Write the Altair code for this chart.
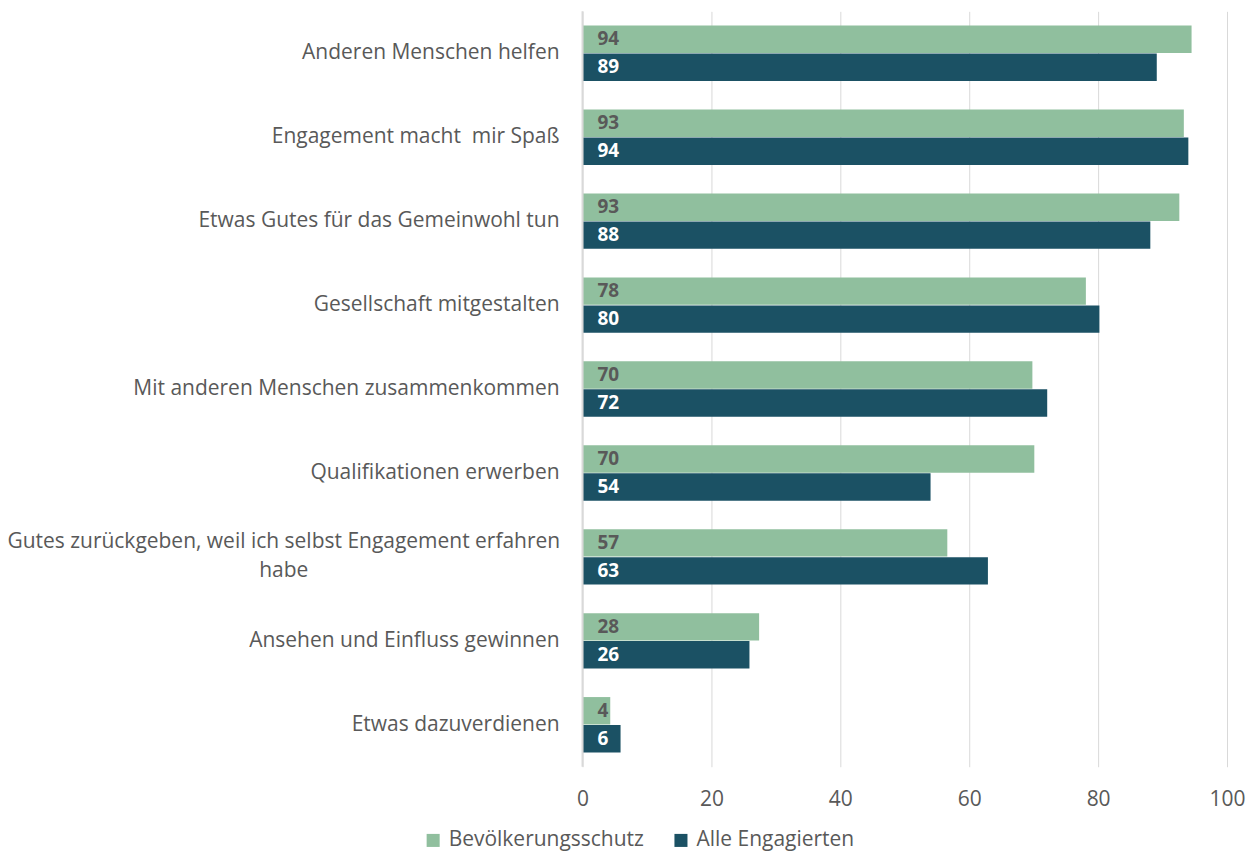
import altair as alt
import pandas as pd

categories = [
    "Anderen Menschen helfen",
    "Engagement macht\u00a0 mir Spaß",
    "Etwas Gutes für das Gemeinwohl tun",
    "Gesellschaft mitgestalten",
    "Mit anderen Menschen zusammenkommen",
    "Qualifikationen erwerben",
    "Gutes zurückgeben, weil ich selbst Engagement erfahren\nhabe",
    "Ansehen und Einfluss gewinnen",
    "Etwas dazuverdienen",
]
series = ["Bevölkerungsschutz", "Alle Engagierten"]
bevoelkerungsschutz = [94.5, 93.3, 92.6, 78.1, 69.8, 70.1, 56.6, 27.4, 4.3]
bevoelkerungsschutz_labels = [94, 93, 93, 78, 70, 70, 57, 28, 4]
alle_engagierten = [89.1, 94.0, 88.1, 80.2, 72.1, 54.0, 62.9, 25.9, 5.9]
alle_engagierten_labels = [89, 94, 88, 80, 72, 54, 63, 26, 6]
x_ticks = [0, 20, 40, 60, 80, 100]

colors = ["#90bf9e", "#1b5164"]
label_colors = ["#595959", "#ffffff"]
FONT = "Open Sans"
TXT = "#595959"

rows = []
for i, c in enumerate(categories):
    rows.append({"cat": c, "series": series[0], "value": bevoelkerungsschutz[i],
                 "label": str(bevoelkerungsschutz_labels[i])})
    rows.append({"cat": c, "series": series[1], "value": alle_engagierten[i],
                 "label": str(alle_engagierten_labels[i])})
df = pd.DataFrame(rows)

cat_df = pd.DataFrame({"cat": categories,
                       "multi": [("\n" in c) for c in categories]})

yscale = alt.Scale(domain=categories, paddingInner=0.34, paddingOuter=0.17)
ysc = alt.Y("cat:N", scale=yscale, axis=None, sort=categories)
yoff = alt.YOffset("series:N", sort=series, scale=alt.Scale(domain=series, paddingInner=0.02))

bars = alt.Chart(df).mark_bar().encode(
    y=ysc,
    yOffset=yoff,
    x=alt.X("value:Q", scale=alt.Scale(domain=[0, 100]),
            axis=alt.Axis(values=x_ticks, title=None, grid=True, gridColor="#d9d9d9",
                          domain=False, ticks=False, labelPadding=22, labelFlush=False,
                          labelFontSize=21, labelColor=TXT, labelFont=FONT)),
    color=alt.Color("series:N", sort=series,
                    scale=alt.Scale(domain=series, range=colors),
                    legend=alt.Legend(orient="none", direction="horizontal", title=None,
                                      legendX=-160, legendY=819,
                                      symbolType="square", symbolSize=170,
                                      symbolStrokeWidth=0, labelFontSize=21,
                                      labelColor=TXT, labelFont=FONT, labelLimit=0,
                                      labelOffset=5, columnPadding=26, symbolOffset=0)),
)

zero = alt.Chart(pd.DataFrame({"x": [0]})).mark_rule(color="#d9d9d9", strokeWidth=2).encode(
    x=alt.X("x:Q"), y=alt.value(0), y2=alt.value(756))

vlabels = alt.Chart(df).mark_text(align="left", baseline="middle", fontWeight="bold",
                                   fontSize=19, font=FONT).encode(
    y=ysc,
    yOffset=yoff,
    x=alt.value(15),
    text="label:N",
    color=alt.Color("series:N", sort=series,
                    scale=alt.Scale(domain=series, range=label_colors), legend=None),
)

catlabels = alt.Chart(cat_df).transform_filter("!datum.multi").mark_text(
    align="right", baseline="middle", fontSize=21, font=FONT, color=TXT).encode(
    y=ysc, x=alt.value(-23), text="cat:N")

multilabel = alt.Chart(cat_df).transform_filter("datum.multi").mark_text(
    align="center", baseline="middle", fontSize=21, font=FONT, color=TXT,
    lineBreak="\n", lineHeight=29, dy=-14.5).encode(
    y=ysc, x=alt.value(-299), text="cat:N")

chart = alt.layer(bars, zero, vlabels, catlabels, multilabel).resolve_scale(
    color="independent").properties(
    width=645, height=756,
    autosize=alt.AutoSizeParams(type="none"),
    padding={"left": 575, "top": 3, "right": 20, "bottom": 86},
).configure_view(stroke=None)

chart.save("out.html", embed_options={"renderer": "svg", "actions": False})
